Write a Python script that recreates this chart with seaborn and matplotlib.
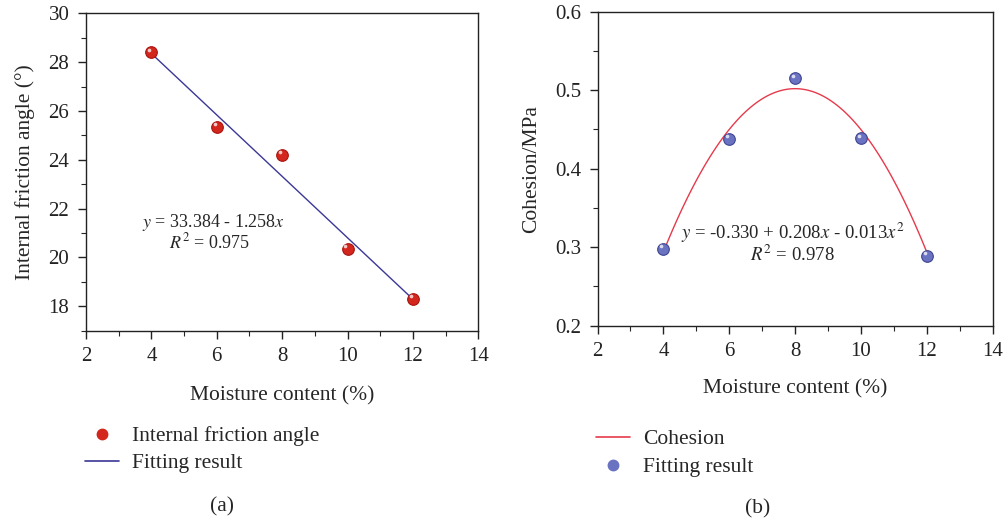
import numpy as np
import pandas as pd
import matplotlib
matplotlib.use("Agg")
import matplotlib.pyplot as plt
import matplotlib.transforms as mtransforms
import seaborn as sns
from matplotlib.ticker import MultipleLocator
from matplotlib.lines import Line2D

# data
moisture = [4, 6, 8, 10, 12]
friction_angle = [28.4, 25.35, 24.2, 20.35, 18.3]
cohesion = [0.298, 0.438, 0.515, 0.439, 0.289]

# fitted equations shown on the chart
lin_coef = (33.384, -1.258)
quad_coef = (-0.330, 0.208, -0.013)

sns.set_theme(style="ticks")
plt.rcParams["font.family"] = ["Liberation Serif", "DejaVu Serif"]
plt.rcParams["mathtext.fontset"] = "stix"

fig = plt.figure(figsize=(10.06, 5.19), dpi=100)
ax1 = fig.add_axes([0.0855, 0.3628, 0.390, 0.6116])
ax2 = fig.add_axes([0.594, 0.3724, 0.3926, 0.605])

red = "#d3261c"
navy = "#3b3896"
pink = "#e63a4c"
blue = "#6a72c2"
FS = 15.5


def sphere(ax, df, color, edge):
    # ball marker with a small highlight, like the original
    sns.scatterplot(data=df, x="x", y="y", ax=ax, color=color, s=70,
                    edgecolor=edge, linewidth=0.8, zorder=3)
    off = mtransforms.offset_copy(ax.transData, fig=fig, x=-1.5, y=1.8, units="points")
    ax.scatter(df["x"], df["y"], s=7, color="white", alpha=0.75,
               linewidth=0, transform=off, zorder=4)


# (a) friction angle
df_a = pd.DataFrame({"x": moisture, "y": friction_angle})
xf = np.linspace(min(moisture), max(moisture), 100)
fit_a = pd.DataFrame({"x": xf, "y": lin_coef[0] + lin_coef[1] * xf})
sns.lineplot(data=fit_a, x="x", y="y", ax=ax1, color=navy, lw=1.0)
sphere(ax1, df_a, red, "#a8140f")
ax1.set_xlim(2, 14)
ax1.set_ylim(17, 30)
ax1.xaxis.set_major_locator(MultipleLocator(2))
ax1.xaxis.set_minor_locator(MultipleLocator(1))
ax1.yaxis.set_major_locator(MultipleLocator(2))
ax1.yaxis.set_minor_locator(MultipleLocator(1))
ax1.set_xlabel("Moisture content (%)", fontsize=FS, labelpad=14)
ax1.set_ylabel("Internal friction angle (°)", fontsize=FS, labelpad=10)
ax1.text(0.324, 0.342, r"$y$ = 33.384 - 1.258$x$", transform=ax1.transAxes,
         ha="center", va="center", fontsize=13)
ax1.text(0.316, 0.279, r"$R^2$ = 0.975", transform=ax1.transAxes,
         ha="center", va="center", fontsize=13)

# (b) cohesion
df_b = pd.DataFrame({"x": moisture, "y": cohesion})
fit_b = pd.DataFrame({"x": xf, "y": quad_coef[0] + quad_coef[1] * xf + quad_coef[2] * xf ** 2})
sns.lineplot(data=fit_b, x="x", y="y", ax=ax2, color=pink, lw=1.0)
sphere(ax2, df_b, blue, "#3d4590")
ax2.set_xlim(2, 14)
ax2.set_ylim(0.2, 0.6)
ax2.xaxis.set_major_locator(MultipleLocator(2))
ax2.xaxis.set_minor_locator(MultipleLocator(1))
ax2.yaxis.set_major_locator(MultipleLocator(0.1))
ax2.yaxis.set_minor_locator(MultipleLocator(0.05))
ax2.set_xlabel("Moisture content (%)", fontsize=FS, labelpad=13)
ax2.set_ylabel("Cohesion/MPa", fontsize=FS, labelpad=10)
ax2.text(0.494, 0.295, r"$y$ = -0.330 + 0.208$x$ - 0.013$x^2$", transform=ax2.transAxes,
         ha="center", va="center", fontsize=13.5)
ax2.text(0.494, 0.225, r"$R^2$ = 0.978", transform=ax2.transAxes,
         ha="center", va="center", fontsize=13.5)

for ax in (ax1, ax2):
    for s in ax.spines.values():
        s.set_linewidth(1.0)
        s.set_color("#222222")
    ax.tick_params(which="major", direction="out", length=6, width=1.0, pad=6,
                   labelsize=15, colors="#222222", top=False, right=False)
    ax.tick_params(which="minor", direction="out", length=3.5, width=0.8,
                   top=False, right=False)

# legends below each panel
h_a = [Line2D([], [], marker="o", ls="", color=red, markersize=7.5),
       Line2D([], [], color=navy, lw=1.2)]
fig.legend(h_a, ["Internal friction angle", "Fitting result"], frameon=False,
           loc="upper left", bbox_to_anchor=(85 / 1006, 1 - 426 / 519), fontsize=FS,
           handlelength=1.6, handletextpad=0.6, labelspacing=0.33,
           borderpad=0, borderaxespad=0)
h_b = [Line2D([], [], color=pink, lw=1.2),
       Line2D([], [], marker="o", ls="", color=blue, markersize=7.5)]
fig.legend(h_b, ["Cohesion", "Fitting result"], frameon=False,
           loc="upper left", bbox_to_anchor=(596 / 1006, 1 - 429 / 519), fontsize=FS,
           handlelength=1.6, handletextpad=0.6, labelspacing=0.38,
           borderpad=0, borderaxespad=0)

fig.text(222 / 1006, 1 - 507 / 519, "(a)", ha="center", va="center", fontsize=FS)
fig.text(758 / 1006, 1 - 509 / 519, "(b)", ha="center", va="center", fontsize=FS)

fig.savefig("out.png", dpi=100)
